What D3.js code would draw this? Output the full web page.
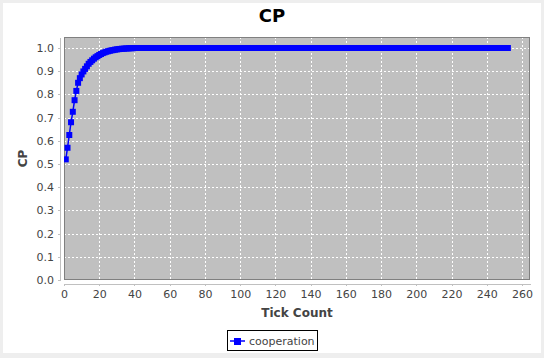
<!DOCTYPE html>
<html>
<head>
<meta charset="utf-8">
<script src="https://cdn.jsdelivr.net/npm/d3@7"></script>
<style>
  html, body { margin: 0; padding: 0; background: #eeeeee; }
  svg { display: block; font-family: "DejaVu Sans", sans-serif; }
</style>
</head>
<body>
<svg id="chart" width="544" height="358"></svg>
<script>
// ---- data ----
const chartTitle = "CP";
const xAxisTitle = "Tick Count";
const yAxisTitle = "CP";
const seriesName = "cooperation";
const xTicks = [0, 20, 40, 60, 80, 100, 120, 140, 160, 180, 200, 220, 240, 260];
const yTicks = [0.0, 0.1, 0.2, 0.3, 0.4, 0.5, 0.6, 0.7, 0.8, 0.9, 1.0];
const tickCount = [
  1,2,3,4,5,6,7,8,9,10,11,12,13,14,15,16,17,18,19,20,
  21,22,23,24,25,26,27,28,29,30,31,32,33,34,35,36,37,38,39,40,
  41,42,43,44,45,46,47,48,49,50,51,52,53,54,55,56,57,58,59,60,
  61,62,63,64,65,66,67,68,69,70,71,72,73,74,75,76,77,78,79,80,
  81,82,83,84,85,86,87,88,89,90,91,92,93,94,95,96,97,98,99,100,
  101,102,103,104,105,106,107,108,109,110,111,112,113,114,115,116,117,118,119,120,
  121,122,123,124,125,126,127,128,129,130,131,132,133,134,135,136,137,138,139,140,
  141,142,143,144,145,146,147,148,149,150,151,152,153,154,155,156,157,158,159,160,
  161,162,163,164,165,166,167,168,169,170,171,172,173,174,175,176,177,178,179,180,
  181,182,183,184,185,186,187,188,189,190,191,192,193,194,195,196,197,198,199,200,
  201,202,203,204,205,206,207,208,209,210,211,212,213,214,215,216,217,218,219,220,
  221,222,223,224,225,226,227,228,229,230,231,232,233,234,235,236,237,238,239,240,
  241,242,243,244,245,246,247,248,249,250,251,252
];
const cooperation = [
  0.52,0.57,0.625,0.68,0.725,0.775,0.815,0.85,0.87,0.886,
  0.899,0.91,0.921,0.932,0.94,0.947,0.954,0.96,0.965,0.97,
  0.974,0.978,0.981,0.984,0.986,0.988,0.99,0.991,0.993,0.994,
  0.995,0.996,0.997,0.997,0.998,0.998,0.999,0.999,0.999,1.0,
  1,1,1,1,1,1,1,1,1,1, 1,1,1,1,1,1,1,1,1,1,
  1,1,1,1,1,1,1,1,1,1, 1,1,1,1,1,1,1,1,1,1,
  1,1,1,1,1,1,1,1,1,1, 1,1,1,1,1,1,1,1,1,1,
  1,1,1,1,1,1,1,1,1,1, 1,1,1,1,1,1,1,1,1,1,
  1,1,1,1,1,1,1,1,1,1, 1,1,1,1,1,1,1,1,1,1,
  1,1,1,1,1,1,1,1,1,1, 1,1,1,1,1,1,1,1,1,1,
  1,1,1,1,1,1,1,1,1,1, 1,1,1,1,1,1,1,1,1,1,
  1,1,1,1,1,1,1,1,1,1, 1,1,1,1,1,1,1,1,1,1,
  1,1,1,1,1,1,1,1,1,1, 1,1,1,1,1,1,1,1,1,1,
  1,1,1,1,1,1,1,1,1,1, 1,1,1,1,1,1,1,1,1,1,
  1,1,1,1,1,1,1,1,1,1, 1,1
];

// ---- drawing ----
const svg = d3.select("#chart");
const plot = { left: 64, top: 37, right: 530, bottom: 280 };
const seriesColor = "#0000ff";
const labelColor = "#444444";

// white chart panel
svg.append("rect").attr("x", 3).attr("y", 3).attr("width", 538).attr("height", 350)
  .attr("fill", "#ffffff");

const x = d3.scaleLinear().domain([0, 264.55]).range([plot.left, plot.right]);
const y = d3.scaleLinear().domain([0, 1.0474]).range([plot.bottom, plot.top]);

// plot background
svg.append("rect")
  .attr("x", plot.left).attr("y", plot.top)
  .attr("width", plot.right - plot.left).attr("height", plot.bottom - plot.top)
  .attr("fill", "#c0c0c0");

// gridlines
const grid = svg.append("g").attr("stroke", "#ffffff").attr("stroke-width", 1)
  .attr("stroke-dasharray", "2,2").attr("shape-rendering", "crispEdges");
grid.selectAll("line.vx").data(xTicks.filter(d => d > 0)).join("line")
  .attr("x1", d => Math.round(x(d)) + 0.5).attr("x2", d => Math.round(x(d)) + 0.5)
  .attr("y1", plot.top).attr("y2", plot.bottom);
grid.selectAll("line.hy").data(yTicks.filter(d => d > 0)).join("line")
  .attr("x1", plot.left).attr("x2", plot.right)
  .attr("y1", d => Math.round(y(d)) + 0.5).attr("y2", d => Math.round(y(d)) + 0.5);

// plot outline
svg.append("rect")
  .attr("x", plot.left + 0.5).attr("y", plot.top + 0.5)
  .attr("width", plot.right - plot.left - 1).attr("height", plot.bottom - plot.top - 1)
  .attr("fill", "none").attr("stroke", "#808080").attr("stroke-width", 1);

// series
const pts = tickCount.map((t, i) => [t, cooperation[i]]);
svg.append("clipPath").attr("id", "pclip").append("rect")
  .attr("x", plot.left).attr("y", plot.top)
  .attr("width", plot.right - plot.left).attr("height", plot.bottom - plot.top);
const series = svg.append("g").attr("clip-path", "url(#pclip)");
series.append("path")
  .attr("d", d3.line().x(d => x(d[0])).y(d => y(d[1]))(pts))
  .attr("fill", "none").attr("stroke", seriesColor).attr("stroke-width", 1.5);
series.selectAll("rect.pt").data(pts).join("rect")
  .attr("x", d => x(d[0]) - 3).attr("y", d => y(d[1]) - 3)
  .attr("width", 6).attr("height", 6).attr("fill", seriesColor);

// axes
const yAxis = d3.axisLeft(y).tickValues(yTicks).tickFormat(d3.format(".1f"))
  .tickSize(2).tickSizeOuter(0).tickPadding(4);
const gy = svg.append("g").attr("transform", "translate(60,0)").call(yAxis);
const xAxis = d3.axisBottom(x).tickValues(xTicks).tickFormat(d3.format("d"))
  .tickSize(2).tickSizeOuter(0).tickPadding(4);
const gx = svg.append("g").attr("transform", "translate(0,284)").call(xAxis);
[gx, gy].forEach(g => {
  g.select(".domain").attr("stroke", "#c0c0c0").attr("shape-rendering", "crispEdges");
  g.selectAll(".tick line").attr("stroke", "#c0c0c0").attr("shape-rendering", "crispEdges");
  g.selectAll(".tick text").attr("fill", labelColor)
    .attr("font-family", "DejaVu Sans").attr("font-size", 11);
});

// titles
svg.append("text").attr("x", 272).attr("y", 22).attr("text-anchor", "middle")
  .attr("font-size", 18).attr("font-weight", "bold").attr("fill", "#000000")
  .text(chartTitle);
svg.append("text").attr("x", (plot.left + plot.right) / 2).attr("y", 317)
  .attr("text-anchor", "middle").attr("font-size", 12).attr("font-weight", "bold")
  .attr("fill", labelColor).text(xAxisTitle);
svg.append("text")
  .attr("transform", `translate(27,${(plot.top + plot.bottom) / 2}) rotate(-90)`)
  .attr("text-anchor", "middle").attr("font-size", 12).attr("font-weight", "bold")
  .attr("fill", labelColor).text(yAxisTitle);

// legend
const lg = svg.append("g").attr("transform", "translate(227,330)");
lg.append("rect").attr("x", 0.5).attr("y", 0.5).attr("width", 90).attr("height", 20)
  .attr("fill", "#ffffff").attr("stroke", "#000000").attr("stroke-width", 1);
lg.append("line").attr("x1", 3).attr("x2", 18).attr("y1", 11).attr("y2", 11)
  .attr("stroke", seriesColor).attr("stroke-width", 1.5);
lg.append("rect").attr("x", 7).attr("y", 8).attr("width", 7).attr("height", 7)
  .attr("fill", seriesColor);
lg.append("text").attr("x", 22).attr("y", 15).attr("font-size", 11)
  .attr("fill", labelColor).text(seriesName);
</script>
</body>
</html>
